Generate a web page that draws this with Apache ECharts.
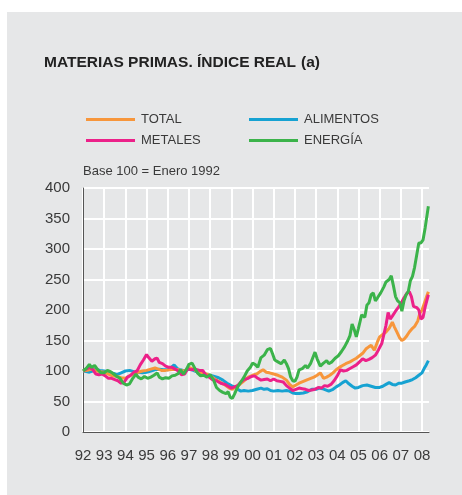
<!DOCTYPE html>
<html>
<head>
<meta charset="utf-8">
<script src="https://cdn.jsdelivr.net/npm/echarts@6/dist/echarts.min.js"></script>
<style>
  html, body { margin: 0; padding: 0; background: #ffffff; }
  #panel { position: absolute; left: 7px; top: 12px; width: 455px; height: 483px; background: #e6e7e8; }
  #chart { position: absolute; left: 0; top: 0; width: 462px; height: 495px; }
</style>
</head>
<body>
<div id="panel"></div>
<div id="chart"></div>
<script>
// [año decimal, índice]
const total = [
  [1992.0,100],[1992.2,101],[1992.4,103],[1992.6,100],[1992.8,99],[1993.0,98],[1993.2,95],[1993.4,92],[1993.6,91],[1993.8,89],
  [1994.0,88],[1994.2,92],[1994.4,96],[1994.6,98],[1994.8,100],[1995.0,101],[1995.2,103],[1995.4,105],[1995.55,103],[1995.7,101],
  [1995.9,101],[1996.1,102],[1996.3,103],[1996.5,102],[1996.7,100],[1996.85,101],[1997.0,106],[1997.15,104],[1997.3,101],[1997.5,98],
  [1997.7,97],[1997.9,94],[1998.1,90],[1998.3,85],[1998.5,81],[1998.7,77],[1998.9,72],[1999.05,70],[1999.2,74],[1999.4,78],
  [1999.6,84],[1999.8,90],[2000.0,93],[2000.2,95],[2000.35,99],[2000.5,102],[2000.65,98],[2000.8,97],[2001.0,95],[2001.2,93],
  [2001.4,90],[2001.6,85],[2001.75,78],[2001.9,74],[2002.05,77],[2002.2,80],[2002.4,83],[2002.6,86],[2002.75,88],[2002.9,90],
  [2003.05,93],[2003.2,97],[2003.35,88],[2003.5,90],[2003.65,93],[2003.8,97],[2003.95,102],[2004.1,106],[2004.25,109],[2004.4,112],
  [2004.6,115],[2004.75,118],[2004.9,121],[2005.05,125],[2005.2,129],[2005.35,136],[2005.5,140],[2005.6,142],[2005.75,134],[2005.9,148],
  [2006.0,156],[2006.15,160],[2006.3,164],[2006.45,170],[2006.6,180],[2006.7,172],[2006.8,165],[2006.95,154],[2007.05,150],[2007.15,152],
  [2007.25,156],[2007.4,164],[2007.55,170],[2007.65,173],[2007.8,182],[2007.9,195],[2008.0,200],[2008.1,210],[2008.2,220],[2008.3,230]
];

const alimentos = [
  [1992.0,100],[1992.15,99],[1992.3,98],[1992.45,100],[1992.6,103],[1992.8,101],[1993.0,100],[1993.15,99],[1993.3,97],[1993.45,96],
  [1993.6,94],[1993.8,97],[1994.0,100],[1994.2,101],[1994.4,99],[1994.6,98],[1994.8,97],[1995.0,98],[1995.2,100],[1995.4,102],
  [1995.6,103],[1995.8,102],[1996.0,102],[1996.15,105],[1996.3,110],[1996.45,104],[1996.6,102],[1996.8,100],[1997.0,103],[1997.2,101],
  [1997.4,98],[1997.6,95],[1997.8,94],[1998.0,93],[1998.2,91],[1998.4,89],[1998.6,85],[1998.8,80],[1999.0,76],[1999.15,74],
  [1999.3,70],[1999.45,67],[1999.6,68],[1999.8,67],[2000.0,68],[2000.2,70],[2000.4,72],[2000.55,70],[2000.7,71],[2000.85,68],
  [2001.0,67],[2001.2,68],[2001.4,67],[2001.6,68],[2001.75,67],[2001.9,64],[2002.05,63],[2002.2,63],[2002.4,64],[2002.6,66],
  [2002.8,70],[2003.0,70],[2003.15,72],[2003.3,71],[2003.45,69],[2003.6,67],[2003.8,70],[2003.95,74],[2004.1,77],[2004.25,81],
  [2004.4,84],[2004.55,79],[2004.7,75],[2004.85,72],[2005.0,73],[2005.2,76],[2005.4,77],[2005.6,75],[2005.8,73],[2006.0,73],
  [2006.15,75],[2006.3,78],[2006.45,81],[2006.6,78],[2006.75,77],[2006.9,80],[2007.05,80],[2007.2,82],[2007.4,84],[2007.55,86],
  [2007.7,89],[2007.85,93],[2008.0,97],[2008.1,104],[2008.2,110],[2008.3,117]
];

const metales = [
  [1992.0,100],[1992.15,103],[1992.3,106],[1992.45,103],[1992.6,95],[1992.75,94],[1992.9,95],[1993.05,92],[1993.2,88],[1993.35,88],
  [1993.5,86],[1993.65,84],[1993.8,80],[1993.95,82],[1994.1,90],[1994.25,93],[1994.4,98],[1994.55,100],[1994.7,110],[1994.85,118],
  [1995.0,127],[1995.1,122],[1995.25,116],[1995.4,120],[1995.5,121],[1995.6,114],[1995.75,112],[1995.9,108],[1996.05,106],[1996.2,106],
  [1996.35,103],[1996.5,100],[1996.65,94],[1996.8,95],[1996.95,104],[1997.1,102],[1997.3,103],[1997.5,101],[1997.65,101],[1997.8,93],
  [1997.95,90],[1998.1,86],[1998.3,84],[1998.5,80],[1998.7,78],[1998.85,75],[1999.0,72],[1999.15,74],[1999.3,76],[1999.45,82],
  [1999.6,86],[1999.8,88],[1999.95,91],[2000.1,92],[2000.25,88],[2000.4,85],[2000.55,86],[2000.7,87],[2000.85,84],[2001.0,87],
  [2001.15,84],[2001.3,83],[2001.45,82],[2001.6,76],[2001.75,72],[2001.9,68],[2002.05,70],[2002.2,72],[2002.35,71],[2002.5,70],
  [2002.65,68],[2002.8,69],[2002.95,70],[2003.1,73],[2003.25,72],[2003.4,76],[2003.55,75],[2003.7,78],[2003.85,84],[2004.0,92],
  [2004.15,102],[2004.3,100],[2004.45,101],[2004.6,104],[2004.75,107],[2004.9,110],[2005.05,115],[2005.2,120],[2005.35,117],[2005.5,119],
  [2005.65,122],[2005.8,126],[2005.95,135],[2006.1,145],[2006.2,160],[2006.3,175],[2006.4,196],[2006.5,185],[2006.6,190],[2006.75,198],
  [2006.9,205],[2007.0,210],[2007.15,220],[2007.3,228],[2007.4,230],[2007.5,222],[2007.6,206],[2007.75,204],[2007.85,200],[2007.95,185],
  [2008.05,188],[2008.15,205],[2008.3,225]
];

const energia = [
  [1992.0,100],[1992.15,104],[1992.3,111],[1992.4,106],[1992.55,109],[1992.7,102],[1992.85,97],[1993.0,97],[1993.15,101],[1993.3,99],
  [1993.45,95],[1993.6,91],[1993.75,88],[1993.9,80],[1994.05,77],[1994.2,79],[1994.35,88],[1994.5,95],[1994.6,90],[1994.75,87],
  [1994.9,91],[1995.05,88],[1995.2,90],[1995.35,93],[1995.5,97],[1995.6,90],[1995.75,87],[1995.9,89],[1996.05,88],[1996.2,92],
  [1996.35,93],[1996.5,96],[1996.6,102],[1996.75,95],[1996.9,104],[1997.0,111],[1997.15,113],[1997.3,103],[1997.4,97],[1997.55,92],
  [1997.7,93],[1997.85,90],[1998.0,94],[1998.15,86],[1998.3,73],[1998.45,68],[1998.6,65],[1998.75,63],[1998.85,66],[1998.95,57],
  [1999.05,55],[1999.15,62],[1999.3,74],[1999.45,82],[1999.6,90],[1999.75,100],[1999.9,106],[2000.0,113],[2000.15,110],[2000.25,106],
  [2000.4,122],[2000.55,126],[2000.7,135],[2000.85,137],[2000.95,128],[2001.05,118],[2001.2,115],[2001.35,112],[2001.5,118],[2001.6,112],
  [2001.7,104],[2001.8,90],[2001.9,84],[2002.0,83],[2002.1,90],[2002.2,102],[2002.35,104],[2002.5,109],[2002.6,105],[2002.75,113],
  [2002.85,122],[2002.95,131],[2003.05,120],[2003.2,108],[2003.35,113],[2003.5,117],[2003.6,112],[2003.75,115],[2003.9,121],[2004.05,125],
  [2004.2,132],[2004.35,140],[2004.5,150],[2004.6,158],[2004.7,177],[2004.8,168],[2004.9,156],[2005.0,170],[2005.15,192],[2005.3,188],
  [2005.4,208],[2005.5,212],[2005.6,225],[2005.7,228],[2005.8,215],[2005.9,220],[2006.05,228],[2006.2,238],[2006.3,246],[2006.45,250],
  [2006.55,256],[2006.65,240],[2006.75,222],[2006.85,215],[2006.95,212],[2007.05,198],[2007.15,215],[2007.25,225],[2007.35,230],[2007.45,248],
  [2007.55,255],[2007.65,270],[2007.75,290],[2007.85,310],[2007.95,310],[2008.05,315],[2008.15,335],[2008.3,370]
];

const FONT = '"Liberation Sans", Arial, sans-serif';
const TEXT = '#3a3a3a';

const chart = echarts.init(document.getElementById('chart'));

const line = (name, data, color) => ({
  name,
  type: 'line',
  data,
  showSymbol: false,
  lineStyle: { width: 3, color },
  itemStyle: { color },
});

const legendBase = {
  orient: 'vertical',
  top: 108,
  icon: 'rect',
  itemWidth: 49,
  itemHeight: 3,
  itemGap: 8,
  textStyle: { fontFamily: FONT, fontSize: 13, color: TEXT, padding: [0, 0, 0, 1] },
};

chart.setOption({
  backgroundColor: 'transparent',
  animation: false,
  title: [
    {
      text: '{b|MATERIAS PRIMAS. ÍNDICE REAL} {n|(a)}',
      left: 39,
      top: 49,
      textStyle: {
        rich: {
          b: { fontFamily: FONT, fontSize: 15.5, fontWeight: 'bold', color: '#222' },
          n: { fontFamily: FONT, fontSize: 15.5, color: '#222' },
        },
      },
    },
    {
      text: 'Base 100 = Enero 1992',
      left: 78,
      top: 160,
      textStyle: { fontFamily: FONT, fontSize: 13, fontWeight: 'normal', color: TEXT },
    },
  ],
  legend: [
    Object.assign({}, legendBase, { data: ['TOTAL', 'METALES'], left: 81 }),
    Object.assign({}, legendBase, { data: ['ALIMENTOS', 'ENERGÍA'], left: 244 }),
  ],
  grid: { left: 83, right: 33, top: 188, bottom: 63 },
  xAxis: {
    type: 'value',
    min: 1992,
    max: 2008.33,
    interval: 1,
    axisLine: { lineStyle: { color: '#555', width: 1 } },
    axisTick: { show: false },
    splitLine: { show: true, showMaxLine: false, lineStyle: { color: '#ffffff', width: 2 } },
    axisLabel: {
      showMaxLabel: false,
      margin: 16,
      fontFamily: FONT,
      fontSize: 15,
      color: TEXT,
      formatter: (v) => (Number.isInteger(v) ? String(v).slice(2) : ''),
    },
  },
  yAxis: {
    type: 'value',
    min: 0,
    max: 400,
    interval: 50,
    axisLine: { show: true, lineStyle: { color: '#555', width: 1 } },
    axisTick: { show: false },
    splitLine: { lineStyle: { color: '#ffffff', width: 2 } },
    axisLabel: { margin: 13, fontFamily: FONT, fontSize: 15, color: TEXT },
  },
  series: [
    line('ALIMENTOS', alimentos, '#16a2d2'),
    line('TOTAL', total, '#f7963b'),
    line('METALES', metales, '#ec2189'),
    line('ENERGÍA', energia, '#3bb34a'),
  ],
});
</script>
</body>
</html>
